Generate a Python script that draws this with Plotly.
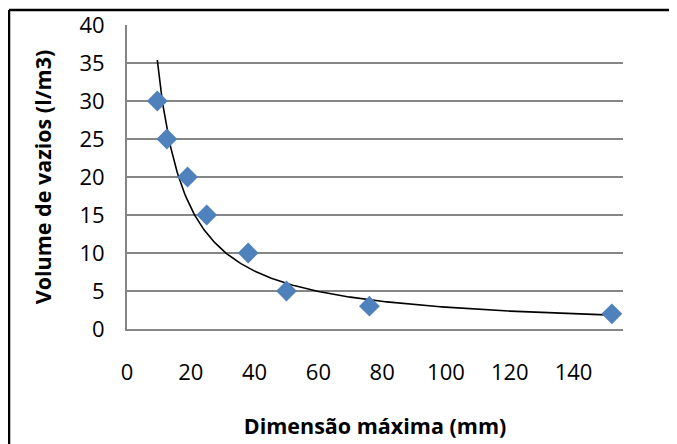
import numpy as np
import plotly.graph_objects as go

# Data
dim_max = [9.5, 12.5, 19, 25, 38, 50, 76, 152]   # Dimensão máxima (mm)
vazios = [30, 25, 20, 15, 10, 5, 3, 2]           # Volume de vazios (l/m3)
x_ticks = [0, 20, 40, 60, 80, 100, 120, 140]
y_ticks = [0, 5, 10, 15, 20, 25, 30, 35, 40]

# Power trendline (least squares in log space, like Excel)
b, ln_a = np.polyfit(np.log(dim_max), np.log(vazios), 1)
xt = np.linspace(min(dim_max), max(dim_max), 300)
yt = np.exp(ln_a) * xt ** b

# page body has an 8px margin; compensate so the picture lands at the right place
OFF = 8
W, H = 677 - OFF, 444 - OFF
L, T = 127 - OFF, 25 - OFF
R = 54
B = 115
pw, ph = W - L - R, H - T - B

fig = go.Figure()
fig.add_trace(go.Scatter(x=xt, y=yt, mode="lines",
                         line=dict(color="black", width=1.6),
                         showlegend=False, cliponaxis=False))
fig.add_trace(go.Scatter(x=dim_max, y=vazios, mode="markers",
                         marker=dict(symbol="diamond", size=16, color="#4F81BD",
                                     line=dict(width=0)),
                         showlegend=False, cliponaxis=False))

tickfont = dict(family="Open Sans", size=22, color="black")
titlefont = dict(family="Open Sans", size=21.5, color="black", weight="bold")

fig.update_layout(
    width=W, height=H,
    margin=dict(l=L, r=R, t=T, b=B, pad=0, autoexpand=False),
    paper_bgcolor="white", plot_bgcolor="white",
    xaxis=dict(range=[0, 155.5], tickvals=x_ticks, showgrid=False, automargin=False,
               showline=True, linecolor="#868686", linewidth=2,
               ticks="outside", ticklen=23, tickcolor="rgba(0,0,0,0)",
               tickfont=tickfont, zeroline=False,
               title=dict(text="Dimensão máxima (mm)", font=titlefont, standoff=34)),
    yaxis=dict(range=[0, 40], tickvals=y_ticks, showgrid=True, automargin=False,
               gridcolor="#868686", gridwidth=1.5,
               showline=True, linecolor="#868686", linewidth=2,
               ticks="outside", ticklen=16, tickcolor="rgba(0,0,0,0)",
               tickfont=tickfont, zeroline=False,
               title=dict(text="Volume de vazios (l/m3)", font=titlefont, standoff=22)),
)

# Outer chart border (top and left visible)
x0 = (1 - L) / pw
y0 = 1 + (T - 2) / ph
fig.add_shape(type="line", xref="paper", yref="paper", x0=x0, y0=y0, x1=(W - L + 5) / pw, y1=y0,
              line=dict(color="black", width=2.5))
fig.add_shape(type="line", xref="paper", yref="paper", x0=x0, y0=y0, x1=x0, y1=-(B + 5) / ph,
              line=dict(color="black", width=2.5))

fig.write_html("out.html")
